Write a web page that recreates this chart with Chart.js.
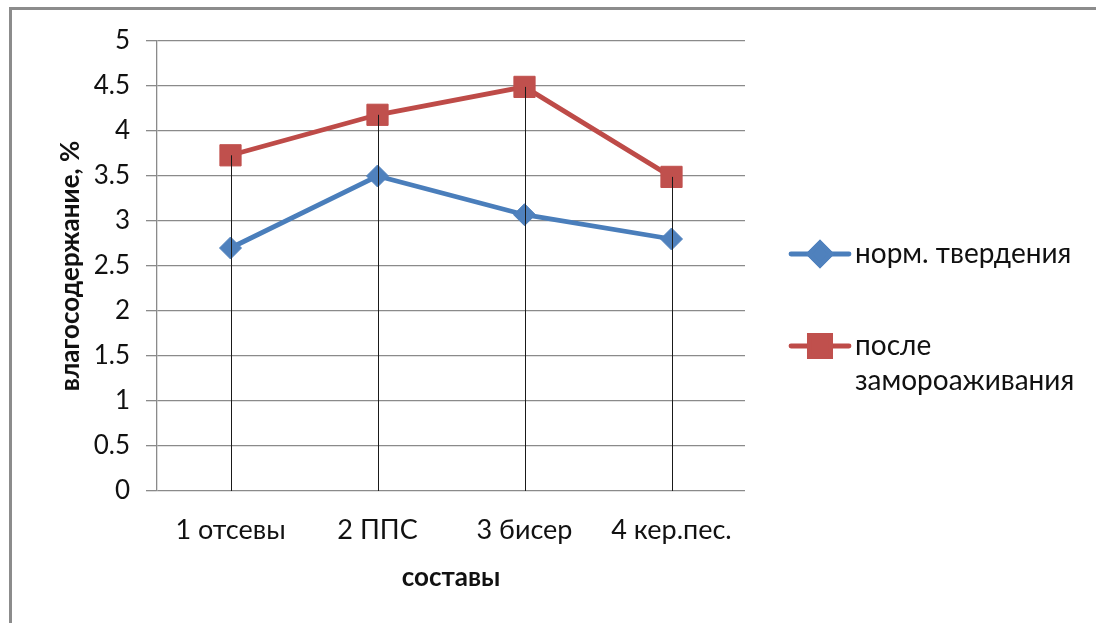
<!DOCTYPE html>
<html>
<head>
<meta charset="utf-8">
<script src="https://cdn.jsdelivr.net/npm/chart.js@4.4.1/dist/chart.umd.min.js"></script>
<style>
  html, body { margin: 0; padding: 0; background: #fff; overflow: hidden; }
  #frame { position: absolute; left: 9px; top: 7px; width: 1200px; height: 700px;
           border-left: 3px solid #8c8c8c; border-top: 3px solid #8c8c8c; }
  #wrap { position: absolute; left: 0; top: 0; width: 1096px; height: 623px; }
</style>
</head>
<body>
<div id="frame"></div>
<div id="wrap"><canvas id="c" width="1096" height="623"></canvas></div>
<script>
// Moisture content by mix composition
const categories = ['1 отсевы', '2 ППС', '3 бисер', '4 кер.пес.'];
const normValues = [2.7, 3.5, 3.07, 2.8];
const frostValues = [3.73, 4.18, 4.49, 3.49];
const seriesNames = ['норм. твердения', 'после замороаживания'];
const legendLines = [['норм. твердения'], ['после', 'замороаживания']];
const yTickLabels = ['0', '0.5', '1', '1.5', '2', '2.5', '3', '3.5', '4', '4.5', '5'];
const yTitle = 'влагосодержание, %';
const xTitle = 'составы';

const FONT = "Lato, 'Open Sans', 'Noto Sans', sans-serif";
const BLUE = '#4A7EBB';
const RED = '#BE4B48';
const GRID = '#8a8a8a';
const TEXT = '#111';

// Vertical drop lines from the highest point of each category down to the axis
const dropLines = {
  id: 'dropLines',
  afterDatasetsDraw(chart) {
    const { ctx, scales: { x, y } } = chart;
    ctx.save();
    ctx.strokeStyle = '#1a1a1a';
    ctx.lineWidth = 1;
    categories.forEach((c, i) => {
      const top = Math.max(...chart.data.datasets.map(d => d.data[i]));
      const px = Math.round(x.getPixelForValue(i)) + 0.5;
      ctx.beginPath();
      ctx.moveTo(px, y.getPixelForValue(top));
      ctx.lineTo(px, y.getPixelForValue(0));
      ctx.stroke();
    });
    ctx.restore();
  }
};

// Legend on the right: line segment with marker, then the series name
const sideLegend = {
  id: 'sideLegend',
  afterDraw(chart) {
    const { ctx } = chart;
    const rows = [{ y: 254, lines: legendLines[0] }, { y: 346, lines: legendLines[1] }];
    ctx.save();
    chart.data.datasets.forEach((ds, i) => {
      const r = rows[i];
      ctx.strokeStyle = ds.borderColor;
      ctx.lineWidth = ds.borderWidth;
      ctx.lineCap = 'round';
      ctx.beginPath();
      ctx.moveTo(791, r.y);
      ctx.lineTo(849, r.y);
      ctx.stroke();
      Chart.helpers.drawPoint(ctx, {
        pointStyle: ds.pointStyle, radius: ds.pointRadius, borderWidth: 1
      }, 820, r.y);
      ctx.fillStyle = ds.pointBackgroundColor;
      ctx.strokeStyle = ds.pointBorderColor;
      ctx.fill();
      ctx.stroke();
      ctx.fillStyle = TEXT;
      ctx.font = '28px ' + FONT;
      ctx.textBaseline = 'middle';
      ctx.textAlign = 'left';
      r.lines.forEach((t, k) => ctx.fillText(t, 855, r.y + k * 35));
    });
    ctx.restore();
  }
};

new Chart(document.getElementById('c'), {
  type: 'line',
  data: {
    labels: categories,
    datasets: [
      {
        label: seriesNames[0], data: normValues,
        borderColor: BLUE, borderWidth: 4.8,
        pointStyle: 'rectRot', pointRadius: 11,
        pointBackgroundColor: '#4F81BD', pointBorderColor: '#4F81BD', pointBorderWidth: 1,
        tension: 0
      },
      {
        label: seriesNames[1], data: frostValues,
        borderColor: RED, borderWidth: 4.8,
        pointStyle: 'rect', pointRadius: 15,
        pointBackgroundColor: '#C0504D', pointBorderColor: '#C0504D', pointBorderWidth: 1,
        tension: 0
      }
    ]
  },
  options: {
    responsive: false,
    animation: false,
    devicePixelRatio: 1,
    layout: { padding: { left: 12, top: 41, right: 351, bottom: 0 } },
    plugins: { legend: { display: false }, tooltip: { enabled: false } },
    scales: {
      x: {
        offset: true,
        grid: { display: false, drawTicks: false },
        border: { display: false },
        ticks: { padding: 23, color: TEXT, font: { family: FONT, size: 27 } },
        title: {
          display: true, text: xTitle, color: TEXT,
          font: { family: FONT, size: 26, weight: 'bold' },
          padding: { top: 0, bottom: 30 }
        },
        afterFit(s) { s.height = 132; }
      },
      y: {
        min: 0, max: 5,
        ticks: {
          stepSize: 0.5, padding: 16, color: TEXT,
          font: { family: FONT, size: 26 },
          callback: (v, i) => yTickLabels[i]
        },
        grid: { color: GRID, lineWidth: 1.3, drawTicks: true, tickLength: 11 },
        border: { display: true, color: GRID, width: 1.3 },
        title: {
          display: true, text: yTitle, color: TEXT,
          font: { family: FONT, size: 26, weight: 'bold' },
          padding: { top: 43, bottom: 0 }
        },
        afterFit(s) { s.width = 145; }
      }
    }
  },
  plugins: [dropLines, sideLegend]
});
</script>
</body>
</html>
